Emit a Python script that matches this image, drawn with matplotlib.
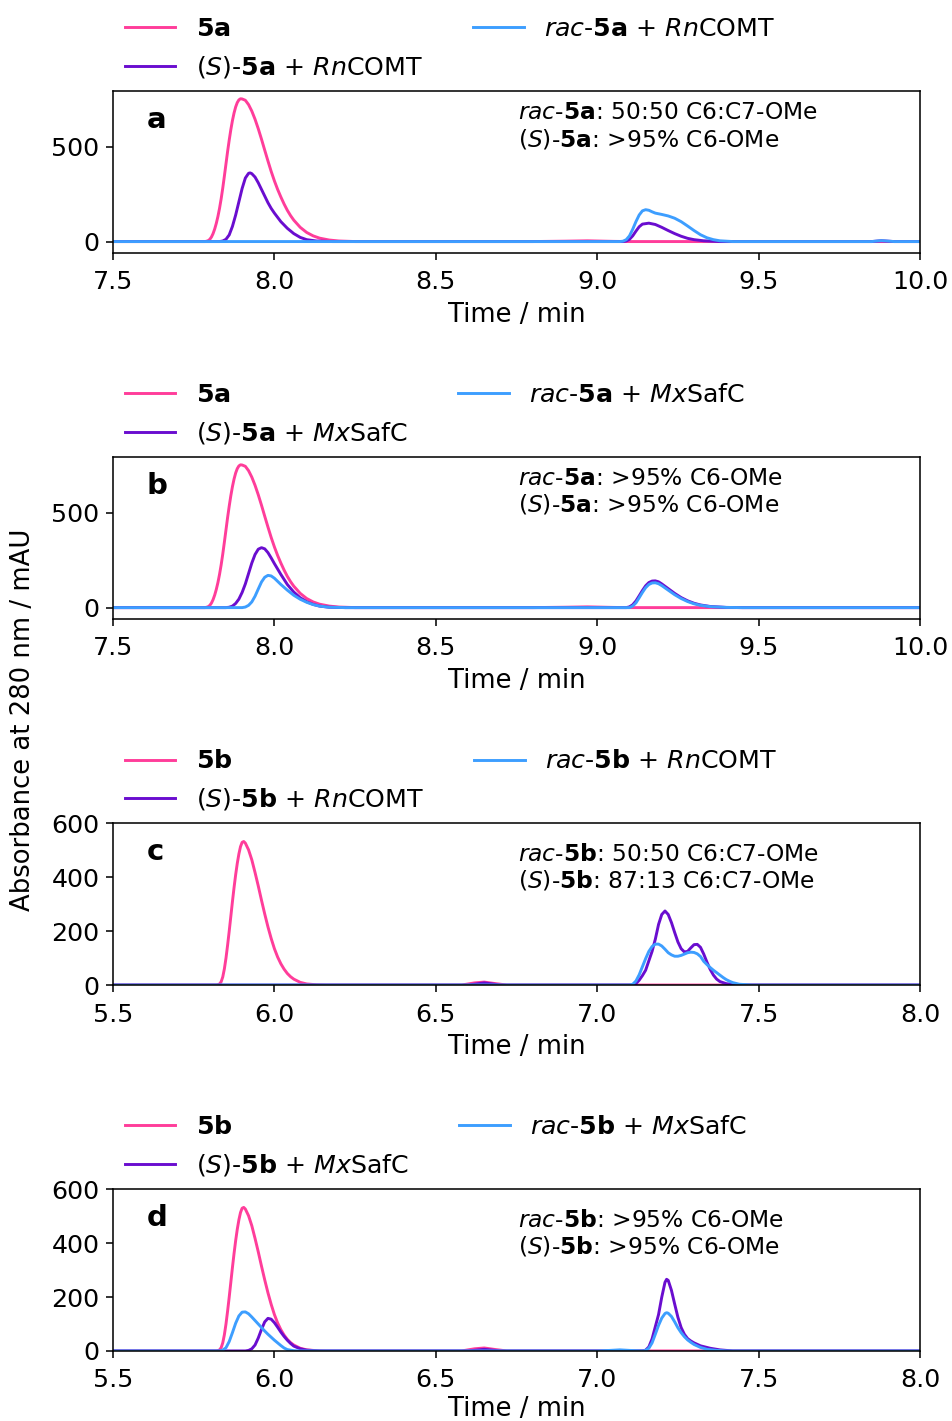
import matplotlib.pyplot as plt

# chromatograms, absorbance at 280 nm (mAU) vs retention time (min)

# 5a standard (panels a and b)
t_5a = [7.50, 7.70, 7.785, 7.79, 7.795, 7.80, 7.805, 7.81, 7.815, 7.82, 7.825, 7.83, 7.835,
        7.84, 7.845, 7.85, 7.855, 7.86, 7.865, 7.87, 7.875, 7.88, 7.885, 7.89, 7.895, 7.90,
        7.91, 7.92, 7.93, 7.94, 7.95, 7.96, 7.97, 7.98, 7.99, 8.00, 8.01, 8.02, 8.03, 8.04,
        8.05, 8.06, 8.08, 8.10, 8.12, 8.14, 8.17, 8.20, 8.25, 8.80, 8.90, 8.97, 9.05, 9.10,
        10.0]
a_5a = [0, 0, 0, 2, 5, 12, 24, 42, 66, 96, 132, 175, 225,
        282, 345, 410, 475, 535, 590, 638, 678, 710, 733, 747, 753, 752,
        745, 722, 688, 645, 595, 540, 482, 425, 370, 320, 275, 235, 198, 165,
        137, 113, 75, 48, 30, 18, 8, 3, 0, 0, 2, 4, 1, 0,
        0]

# (S)-5a + RnCOMT
t_s5a_rn = [7.50, 7.83, 7.84, 7.85, 7.86, 7.87, 7.88, 7.89, 7.90, 7.91, 7.92, 7.925, 7.93,
            7.94, 7.95, 7.96, 7.97, 7.98, 7.99, 8.00, 8.02, 8.04, 8.06, 8.08, 8.10, 8.13,
            8.18, 9.08, 9.09, 9.10, 9.11, 9.12, 9.13, 9.14, 9.16, 9.18, 9.20, 9.22, 9.24,
            9.26, 9.28, 9.30, 9.33, 9.38, 9.85, 9.88, 9.92, 10.0]
a_s5a_rn = [0, 0, 3, 12, 35, 80, 140, 210, 280, 335, 360, 362, 358,
            340, 310, 275, 240, 205, 175, 150, 105, 70, 42, 22, 10, 3,
            0, 0, 3, 12, 30, 55, 78, 92, 97, 90, 75, 58, 42,
            28, 17, 10, 4, 0, 0, 4, 0, 0]

# rac-5a + RnCOMT
t_rac5a_rn = [7.50, 9.07, 9.08, 9.09, 9.10, 9.11, 9.12, 9.13, 9.14, 9.15, 9.16, 9.17, 9.18,
              9.20, 9.22, 9.24, 9.26, 9.28, 9.30, 9.32, 9.34, 9.36, 9.38, 9.42, 9.85, 9.88,
              9.92, 10.0]
a_rac5a_rn = [0, 0, 2, 10, 30, 65, 105, 140, 162, 168, 165, 157, 150,
              143, 135, 123, 105, 82, 58, 36, 20, 10, 4, 0, 0, 5,
              0, 0]

# (S)-5a + MxSafC
t_s5a_mx = [7.50, 7.85, 7.86, 7.87, 7.88, 7.89, 7.90, 7.91, 7.92, 7.93, 7.94, 7.95, 7.96,
            7.97, 7.98, 7.99, 8.00, 8.02, 8.04, 8.06, 8.08, 8.10, 8.12, 8.14, 8.17, 8.22,
            9.09, 9.10, 9.11, 9.12, 9.13, 9.14, 9.15, 9.16, 9.17, 9.18, 9.19, 9.20, 9.22,
            9.24, 9.26, 9.28, 9.30, 9.32, 9.35, 9.40, 9.45, 10.0]
a_s5a_mx = [0, 0, 2, 8, 22, 45, 80, 125, 180, 235, 280, 308, 316,
            310, 290, 262, 232, 175, 122, 82, 52, 31, 17, 8, 2, 0,
            0, 4, 15, 35, 62, 90, 115, 132, 140, 141, 136, 125, 100,
            75, 53, 36, 23, 14, 6, 1, 0, 0]

# rac-5a + MxSafC
t_rac5a_mx = [7.50, 7.90, 7.91, 7.92, 7.93, 7.94, 7.95, 7.96, 7.97, 7.98, 7.99, 8.00, 8.02,
              8.04, 8.06, 8.08, 8.10, 8.12, 8.14, 8.17, 8.22, 9.10, 9.11, 9.12, 9.13, 9.14,
              9.15, 9.16, 9.17, 9.18, 9.19, 9.20, 9.22, 9.24, 9.26, 9.28, 9.30, 9.32, 9.35,
              9.40, 9.45, 10.0]
a_rac5a_mx = [0, 0, 3, 12, 30, 60, 98, 135, 160, 170, 167, 155, 122,
              92, 65, 44, 28, 16, 8, 2, 0, 0, 8, 25, 52, 80,
              105, 122, 130, 131, 126, 116, 92, 68, 48, 32, 20, 12, 5,
              1, 0, 0]

# 5b standard (panels c and d)
t_5b = [5.50, 5.82, 5.825, 5.83, 5.835, 5.84, 5.845, 5.85, 5.855, 5.86, 5.865, 5.87, 5.875,
        5.88, 5.885, 5.89, 5.895, 5.90, 5.905, 5.91, 5.92, 5.93, 5.94, 5.95, 5.96, 5.97,
        5.98, 5.99, 6.00, 6.01, 6.02, 6.03, 6.04, 6.05, 6.06, 6.08, 6.10, 6.13, 6.16, 6.58,
        6.62, 6.65, 6.68, 6.72, 8.00]
a_5b = [0, 0, 1, 4, 12, 30, 60, 100, 148, 200, 255, 310, 362,
        410, 452, 487, 514, 530, 533, 527, 502, 465, 418, 368, 315, 264,
        216, 173, 135, 104, 79, 59, 43, 31, 22, 10, 4, 1, 0, 0,
        8, 11, 6, 0, 0]

# (S)-5b + RnCOMT
t_s5b_rn = [5.50, 6.60, 6.65, 6.70, 7.11, 7.12, 7.13, 7.14, 7.15, 7.16, 7.17, 7.18, 7.19,
            7.20, 7.21, 7.22, 7.23, 7.24, 7.25, 7.26, 7.27, 7.28, 7.29, 7.30, 7.31, 7.32,
            7.33, 7.34, 7.35, 7.36, 7.37, 7.38, 7.40, 7.43, 7.46, 8.00]
a_s5b_rn = [0, 0, 8, 0, 0, 5, 18, 35, 55, 90, 125, 170, 225,
            262, 275, 262, 232, 195, 160, 135, 123, 125, 138, 150, 151, 140,
            115, 85, 58, 37, 22, 13, 5, 1, 0, 0]

# rac-5b + RnCOMT
t_rac5b_rn = [5.50, 7.10, 7.11, 7.12, 7.13, 7.14, 7.15, 7.16, 7.17, 7.18, 7.19, 7.20, 7.21,
              7.22, 7.23, 7.24, 7.25, 7.26, 7.27, 7.28, 7.29, 7.30, 7.31, 7.32, 7.33, 7.34,
              7.35, 7.36, 7.37, 7.38, 7.39, 7.40, 7.41, 7.42, 7.44, 7.48, 8.00]
a_rac5b_rn = [0, 0, 3, 15, 38, 68, 98, 125, 143, 152, 152, 145, 133,
              120, 112, 107, 107, 110, 115, 120, 122, 121, 116, 106, 88, 76,
              65, 55, 46, 37, 28, 20, 14, 9, 3, 0, 0]

# (S)-5b + MxSafC
t_s5b_mx = [5.50, 5.91, 5.92, 5.93, 5.94, 5.95, 5.96, 5.97, 5.98, 5.99, 6.00, 6.01, 6.02,
            6.03, 6.04, 6.05, 6.06, 6.08, 6.10, 6.14, 6.60, 6.65, 6.70, 7.14, 7.15, 7.16,
            7.17, 7.18, 7.19, 7.20, 7.21, 7.215, 7.22, 7.23, 7.24, 7.25, 7.26, 7.27, 7.28,
            7.29, 7.30, 7.32, 7.35, 7.38, 7.42, 8.00]
a_s5b_mx = [0, 0, 2, 8, 22, 48, 80, 108, 121, 118, 105, 88, 70,
            54, 40, 28, 18, 8, 3, 0, 0, 6, 0, 0, 3, 15,
            45, 90, 135, 200, 255, 266, 262, 225, 174, 125, 87, 62, 46,
            37, 30, 19, 10, 4, 0, 0]

# rac-5b + MxSafC
t_rac5b_mx = [5.50, 5.83, 5.84, 5.85, 5.86, 5.87, 5.88, 5.89, 5.90, 5.91, 5.92, 5.93, 5.94,
              5.95, 5.96, 5.97, 5.98, 5.99, 6.00, 6.01, 6.02, 6.03, 6.04, 6.06, 6.08, 7.00,
              7.04, 7.07, 7.10, 7.14, 7.15, 7.16, 7.17, 7.18, 7.19, 7.20, 7.21, 7.215, 7.22,
              7.23, 7.24, 7.25, 7.26, 7.27, 7.28, 7.29, 7.30, 7.32, 7.34, 7.37, 7.40, 8.00]
a_rac5b_mx = [0, 0, 3, 12, 35, 68, 103, 130, 144, 145, 138, 126, 113,
              100, 87, 74, 62, 51, 40, 30, 20, 11, 5, 1, 0, 0,
              2, 4, 2, 0, 2, 10, 30, 62, 95, 122, 139, 142, 140,
              128, 108, 86, 68, 53, 41, 32, 24, 13, 6, 2, 0, 0]

pink = '#ff3d9a'
purple = '#6a0dcf'
blue = '#3d9eff'

panels = [
    dict(letter='a', x=(t_5a, t_s5a_rn, t_rac5a_rn), y=(a_5a, a_s5a_rn, a_rac5a_rn),
         labels=(r'$\mathbf{5a}$', r'($\mathit{S}$)-$\mathbf{5a}$ + $\mathit{Rn}$COMT',
                 r'$\mathit{rac}$-$\mathbf{5a}$ + $\mathit{Rn}$COMT'),
         notes=(r'$\mathit{rac}$-$\mathbf{5a}$: 50:50 C6:C7-OMe',
                r'($\mathit{S}$)-$\mathbf{5a}$: >95% C6-OMe'),
         xlim=(7.5, 10.0), ylim=(-60, 792), yticks=[0, 500], note_y=(0.826, 0.660)),
    dict(letter='b', x=(t_5a, t_s5a_mx, t_rac5a_mx), y=(a_5a, a_s5a_mx, a_rac5a_mx),
         labels=(r'$\mathbf{5a}$', r'($\mathit{S}$)-$\mathbf{5a}$ + $\mathit{Mx}$SafC',
                 r'$\mathit{rac}$-$\mathbf{5a}$ + $\mathit{Mx}$SafC'),
         notes=(r'$\mathit{rac}$-$\mathbf{5a}$: >95% C6-OMe',
                r'($\mathit{S}$)-$\mathbf{5a}$: >95% C6-OMe'),
         xlim=(7.5, 10.0), ylim=(-60, 792), yticks=[0, 500], note_y=(0.832, 0.666)),
    dict(letter='c', x=(t_5b, t_s5b_rn, t_rac5b_rn), y=(a_5b, a_s5b_rn, a_rac5b_rn),
         labels=(r'$\mathbf{5b}$', r'($\mathit{S}$)-$\mathbf{5b}$ + $\mathit{Rn}$COMT',
                 r'$\mathit{rac}$-$\mathbf{5b}$ + $\mathit{Rn}$COMT'),
         notes=(r'$\mathit{rac}$-$\mathbf{5b}$: 50:50 C6:C7-OMe',
                r'($\mathit{S}$)-$\mathbf{5b}$: 87:13 C6:C7-OMe'),
         xlim=(5.5, 8.0), ylim=(0, 600), yticks=[0, 200, 400, 600], note_y=(0.767, 0.603)),
    dict(letter='d', x=(t_5b, t_s5b_mx, t_rac5b_mx), y=(a_5b, a_s5b_mx, a_rac5b_mx),
         labels=(r'$\mathbf{5b}$', r'($\mathit{S}$)-$\mathbf{5b}$ + $\mathit{Mx}$SafC',
                 r'$\mathit{rac}$-$\mathbf{5b}$ + $\mathit{Mx}$SafC'),
         notes=(r'$\mathit{rac}$-$\mathbf{5b}$: >95% C6-OMe',
                r'($\mathit{S}$)-$\mathbf{5b}$: >95% C6-OMe'),
         xlim=(5.5, 8.0), ylim=(0, 600), yticks=[0, 200, 400, 600], note_y=(0.767, 0.603)),
]

plt.rcParams['font.size'] = 13.3
plt.rcParams['xtick.labelsize'] = 13
plt.rcParams['ytick.labelsize'] = 13
plt.rcParams['xtick.major.pad'] = 5.5
plt.rcParams['mathtext.fontset'] = 'dejavusans'

fig = plt.figure(figsize=(6.8, 10.15), dpi=140)
bottoms = [0.8220, 0.5644, 0.3068, 0.0493]

for i, (p, b) in enumerate(zip(panels, bottoms)):
    ax = fig.add_axes([0.1187, b, 0.8477, 0.1137])
    for xs, ys, lab, col in zip(p['x'], p['y'], p['labels'], (pink, purple, blue)):
        ax.plot(xs, ys, color=col, lw=1.5, label=lab)
    ax.set_xlim(*p['xlim'])
    ax.set_ylim(*p['ylim'])
    ax.set_yticks(p['yticks'])
    # bottom panel sits close to the figure edge
    ax.set_xlabel('Time / min', labelpad=2 if i == 3 else 4)
    ax.text(0.042, 0.775, p['letter'], transform=ax.transAxes, fontsize=15,
            fontweight='bold', va='baseline')
    for txt, ty in zip(p['notes'], p['note_y']):
        ax.text(0.502, ty, txt, transform=ax.transAxes, va='baseline', fontsize=12)
    ax.legend(loc='lower left', bbox_to_anchor=(-0.0136, 0.93), ncol=2, frameon=False,
              fontsize=13)

fig.text(0.024, 0.4933, 'Absorbance at 280 nm / mAU', rotation=90, va='center', ha='center')

fig.savefig('out.png', dpi=140)
